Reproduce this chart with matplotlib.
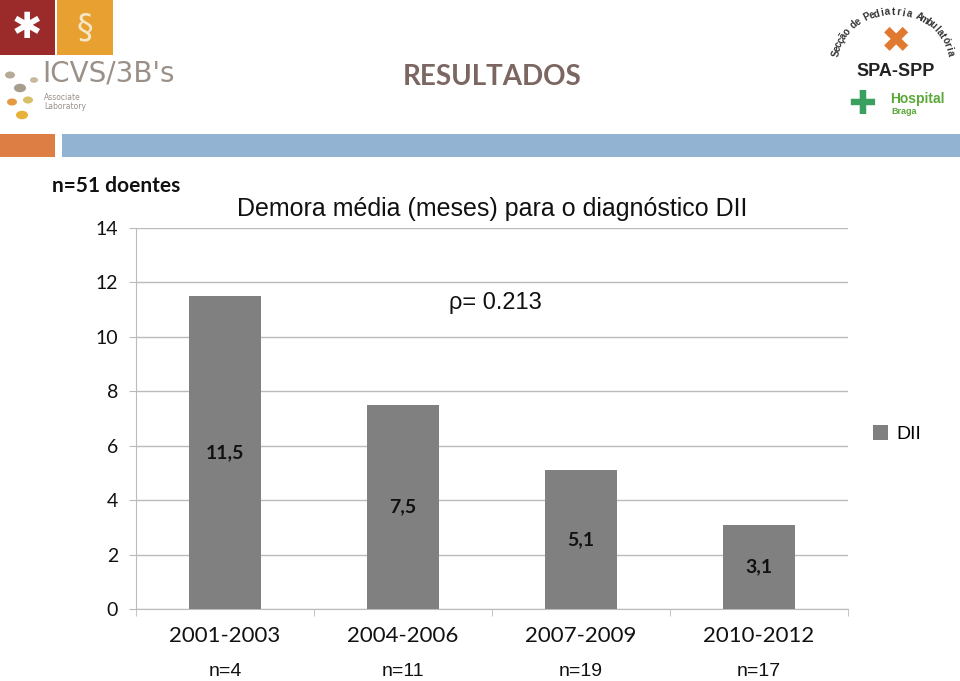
import numpy as np
import matplotlib.pyplot as plt
import matplotlib.patches as pltPatch

periods = ["2001-2003", "2004-2006", "2007-2009", "2010-2012"]
delays = [11.5, 7.5, 5.1, 3.1]
patients = ["n=4", "n=11", "n=19", "n=17"]
yticks = [0, 2, 4, 6, 8, 10, 12, 14]

W, H = 960, 681
fig = plt.figure(figsize=(9.6, 6.81), dpi=100)

def px(x, y):
    # pixel coords of the slide -> figure fraction
    return x / W, 1 - y / H

def rect(x0, y0, x1, y1, color):
    fx, fy = px(x0, y1)
    fig.patches.append(pltPatch.Rectangle((fx, fy), (x1 - x0) / W, (y1 - y0) / H,
                                          transform=fig.transFigure, color=color, lw=0))

# header decoration
rect(0, 0, 55, 55, "#9b2a2a")
rect(57, 0, 113, 55, "#e8a030")
rect(0, 134, 55, 157, "#dd7f45")
rect(62, 134, 960, 157, "#93b3d2")
fig.text(*px(27, 28), "\u2731", color="white", fontsize=26, ha="center", va="center")
fig.text(*px(85, 28), "\u00a7", color="#f6e7c8", fontsize=24, ha="center", va="center")
fig.text(*px(42, 74), "ICVS/3B's", color="#9a9088", fontsize=20, ha="left", va="center",
         family="Liberation Sans Narrow")
fig.text(*px(44, 102), "Associate\nLaboratory", color="#9a9088", fontsize=5.5, ha="left", va="center",
         linespacing=1.1)
for cx, cy, r, c in [(10, 75, 5, "#b8aa98"), (20, 88, 6, "#a89c8a"), (12, 102, 5, "#e39a40"),
                     (28, 100, 5, "#d8c06a"), (22, 115, 6, "#e8b23a"), (34, 80, 4, "#c8b8a0")]:
    fig.patches.append(pltPatch.Circle(px(cx, cy), r / W, transform=fig.transFigure, color=c, lw=0))

# curved "Secção de Pediatria Ambulatória"
arc = "Secção de Pediatria Ambulatória"
for i, ch in enumerate(arc):
    a = np.radians(170 - 160 * i / (len(arc) - 1))
    cx, cy = 893 + 58 * np.cos(a), 62 - 50 * np.sin(a)
    fig.text(*px(cx, cy), ch, color="#333333", fontsize=7, ha="center", va="center",
             fontweight="bold", rotation=np.degrees(a) - 90, family="Liberation Sans")
fig.text(*px(896, 42), "\u2716", color="#e07a30", fontsize=26, ha="center", va="center")
fig.text(*px(896, 72), "SPA-SPP", color="#222222", fontsize=13, ha="center", va="center",
         fontweight="bold", family="Liberation Sans")
fig.text(*px(862, 104), "\u271a", color="#3aa060", fontsize=24, ha="center", va="center")
fig.text(*px(890, 99), "Hospital", color="#5aa838", fontsize=10, ha="left", va="center",
         fontweight="bold", family="Liberation Sans")
fig.text(*px(891, 112), "Braga", color="#5aa838", fontsize=6.5, ha="left", va="center",
         fontweight="bold", family="Liberation Sans")

fig.text(*px(492, 77), "RESULTADOS", color="#7b6662", fontsize=20, fontweight="bold",
         ha="center", va="center", family="Lato")
fig.text(*px(52, 186), "n=51 doentes", color="#111111", fontsize=15, fontweight="bold",
         ha="left", va="center", family="Lato")

# chart
l, b = px(136, 609)
r, t = px(848, 228)
ax = fig.add_axes([l, b, r - l, t - b])
x = np.arange(len(periods))
bars = ax.bar(x, delays, width=0.4, color="#808080", zorder=3, label="DII")
ax.bar_label(bars, labels=[f"{v:.1f}".replace(".", ",") for v in delays], label_type="center",
             fontsize=14, fontweight="bold", color="#111111", family="Lato")

ax.set_xlim(-0.5, len(periods) - 0.5)
ax.set_ylim(0, 14)
ax.set_yticks(yticks)
ax.set_yticklabels([str(v) for v in yticks], family="Lato", fontsize=14, color="#111111")
ax.yaxis.grid(True, color="#bbbbbb", lw=1, zorder=0)
ax.tick_params(axis="y", length=5, color="#bbbbbb", pad=8)
ax.set_xticks(x)
ax.set_xticklabels(periods, family="Lato", fontsize=16, color="#111111")
ax.tick_params(axis="x", length=0, pad=12)
ax.set_xticks(np.arange(-0.5, len(periods)), minor=True)
ax.tick_params(axis="x", which="minor", length=5, color="#bbbbbb")
for s in ["top", "right"]:
    ax.spines[s].set_visible(False)
for s in ["left", "bottom"]:
    ax.spines[s].set_color("#bbbbbb")

for xi, n in zip(x, patients):
    ax.annotate(n, (xi, 0), xytext=(0, -45), textcoords="offset points", ha="center",
                va="center", fontsize=14, family="Liberation Sans", color="#111111")

ax.text(0.5, 1.05, "Demora média (meses) para o diagnóstico DII", transform=ax.transAxes,
        ha="center", va="center", fontsize=18, family="Liberation Sans", color="#111111")
ax.text(1.52, 11.25, "\u03c1= 0.213", ha="center", va="center", fontsize=17,
        family="Liberation Sans", color="#111111")

ax.legend(loc="center left", bbox_to_anchor=(1.01, 0.46), frameon=False, handlelength=0.8,
          handleheight=0.8, handletextpad=0.4, prop={"family": "Liberation Sans", "size": 14})

fig.savefig("out.png", dpi=100)
